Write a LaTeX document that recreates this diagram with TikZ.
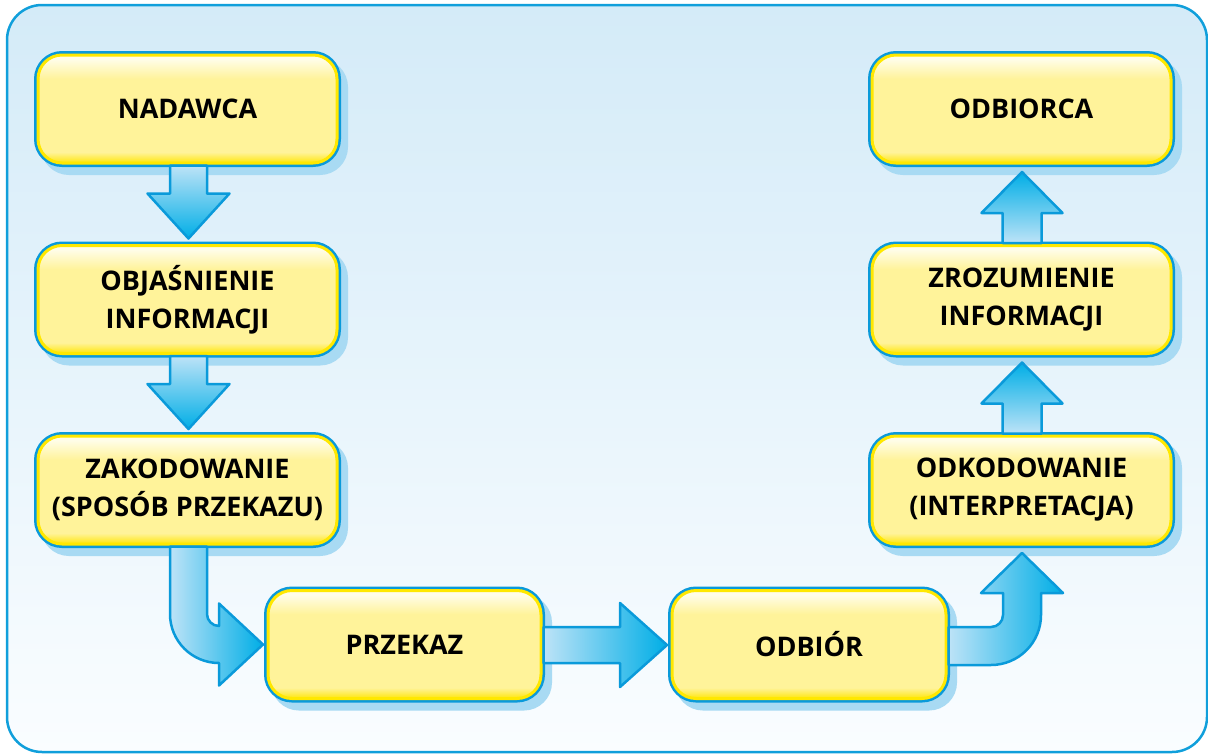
\documentclass[tikz,border=0pt]{standalone}
\usepackage{fontspec}
\setmainfont{Open Sans}
\usetikzlibrary{calc}

\definecolor{frameblue}{HTML}{109FDB}
\definecolor{bgtop}{HTML}{D4EBF8}
\definecolor{bgbot}{HTML}{FAFDFF}
\definecolor{edgeblue}{HTML}{0A9ADA}
\definecolor{shadowblue}{HTML}{A8DAF3}
\definecolor{yline}{HTML}{FFE800}
\definecolor{ytop}{HTML}{FFFDE8}
\definecolor{ymid}{HTML}{FFF39A}
\definecolor{ybot}{HTML}{FFE60A}
\definecolor{alight}{HTML}{BDE3F7}
\definecolor{adeep}{HTML}{00AEE6}

% yellow box fill: saturated bottom edge, pale body, whitish top
\pgfdeclareverticalshading{boxshade}{100bp}{color(0bp)=(ybot); color(25bp)=(ybot); color(30bp)=(ymid); color(64bp)=(ymid); color(73bp)=(ytop); color(100bp)=(ytop)}

\tikzset{
  stepbox/.style={
    preaction={fill=shadowblue, draw=shadowblue, line width=8pt,
               transform canvas={shift={(7pt,-8pt)}}},
    preaction={draw=edgeblue, line width=8pt},
    shade, shading=boxshade, draw=yline, line width=3pt,
    rounded corners=24pt, minimum width=299pt, minimum height=108pt,
    inner sep=0pt, outer sep=0pt, align=center, text=black,
    font=\bfseries\fontsize{27}{38}\selectfont},
  arrowbody/.style={draw=edgeblue, line width=2.5pt, line join=round}
}

% block arrow pointing down, from the bottom of #1 to the top of #2
\newcommand\flowdown[2]{%
  \path[arrowbody, top color=alight, bottom color=adeep]
    let \p1=(#1.south), \p2=(#2.north) in
    ({\x1-17.5pt},{\y1-2.5pt}) -- ({\x1-17.5pt},{\y2+52pt}) --
    ({\x1-40pt},{\y2+52pt}) -- ({\x1+1pt},{\y2+7pt}) --
    ({\x1+42pt},{\y2+52pt}) -- ({\x1+19.5pt},{\y2+52pt}) --
    ({\x1+19.5pt},{\y1-2.5pt}) -- cycle;}

% block arrow pointing up, from the top of #1 to the bottom of #2
\newcommand\flowup[2]{%
  \path[arrowbody, bottom color=alight, top color=adeep]
    let \p1=(#1.north), \p2=(#2.south) in
    ({\x1-19pt},{\y1+2.5pt}) -- ({\x1-19pt},{\y2-50pt}) --
    ({\x1-40pt},{\y2-50pt}) -- ({\x1+0.5pt},{\y2-9pt}) --
    ({\x1+41pt},{\y2-50pt}) -- ({\x1+20pt},{\y2-50pt}) --
    ({\x1+20pt},{\y1+2.5pt}) -- cycle;}

% block arrow pointing right, from the right side of #1 to the left side of #2
\newcommand\flowright[2]{%
  \path[arrowbody, left color=alight, right color=adeep]
    let \p1=(#1.east), \p2=(#2.west) in
    ({\x1+2.5pt},{\y1+17.5pt}) -- ({\x2-52pt},{\y1+17.5pt}) --
    ({\x2-52pt},{\y1+41.5pt}) -- ({\x2-5pt},{\y1-0.5pt}) --
    ({\x2-52pt},{\y1-42.5pt}) -- ({\x2-52pt},{\y1-18.5pt}) --
    ({\x1+2.5pt},{\y1-18.5pt}) -- cycle;}

\begin{document}
\begin{tikzpicture}[x=1pt,y=1pt]
  \useasboundingbox (0,0) rectangle (1208,-755);

  % framed background panel
  \path[top color=bgtop, bottom color=bgbot, draw=frameblue, line width=2.5pt,
        rounded corners=35pt] (7,-5) rectangle (1207,-752);

  % process steps
  \node[stepbox] (nad) at (187.5,-109)   {NADAWCA};
  \node[stepbox] (obj) at (187.5,-299.5) {OBJAŚNIENIE\\INFORMACJI};
  \node[stepbox] (zak) at (187.5,-490)   {ZAKODOWANIE\\(SPOSÓB PRZEKAZU)};
  \node[stepbox, minimum width=273pt] (prz) at (404.5,-644.5) {PRZEKAZ};
  \node[stepbox, minimum width=274pt] (odb) at (809,-644.5)   {ODBIÓR};
  \node[stepbox] (odk) at (1021.5,-490)   {ODKODOWANIE\\(INTERPRETACJA)};
  \node[stepbox] (zro) at (1021.5,-299.5) {ZROZUMIENIE\\INFORMACJI};
  \node[stepbox] (odc) at (1021.5,-109)   {ODBIORCA};

  % straight connectors
  \flowdown{nad}{obj}
  \flowdown{obj}{zak}
  \flowright{prz}{odb}
  \flowup{odk}{zro}
  \flowup{zro}{odc}

  % bent connector: down out of the encoding step, then right into the channel
  \path[arrowbody, left color=alight, right color=adeep]
    let \p1=(zak.south), \p2=(prz.west) in
    ({\x1-17.5pt},{\y1-2.5pt}) -- ({\x1-17.5pt},{\y2+30.5pt})
    arc[start angle=180, end angle=270, radius=49pt]
    -- ({\x2-49pt},{\y2-18.5pt}) -- ({\x2-49pt},{\y2-41pt})
    -- ({\x2-5pt},{\y2}) -- ({\x2-49pt},{\y2+41pt})
    -- ({\x2-49pt},{\y2+18.5pt}) -- ({\x1+31.5pt},{\y2+18.5pt})
    arc[start angle=270, end angle=180, radius=12pt]
    -- ({\x1+19.5pt},{\y1-2.5pt}) -- cycle;

  % bent connector: right out of the reception step, then up into decoding
  \path[arrowbody, left color=alight, right color=adeep]
    let \p1=(odb.east), \p2=(odk.south) in
    ({\x1+2.5pt},{\y1+17.5pt}) -- ({\x2-30.5pt},{\y1+17.5pt})
    arc[start angle=270, end angle=360, radius=12pt]
    -- ({\x2-18.5pt},{\y2-49pt}) -- ({\x2-40.5pt},{\y2-49pt})
    -- ({\x2+0.5pt},{\y2-9pt}) -- ({\x2+41.5pt},{\y2-49pt})
    -- ({\x2+19.5pt},{\y2-49pt}) -- ({\x2+19.5pt},{\y1+29.5pt})
    arc[start angle=0, end angle=-90, radius=50pt]
    -- ({\x1+2.5pt},{\y1-20.5pt}) -- cycle;
\end{tikzpicture}
\end{document}
